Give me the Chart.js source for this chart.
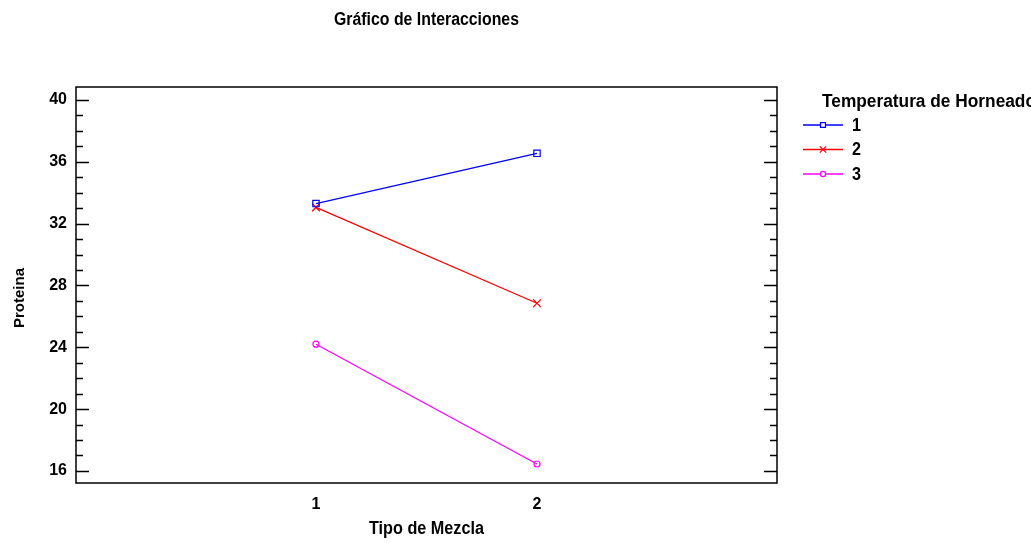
<!DOCTYPE html>
<html>
<head>
<meta charset="utf-8">
<script src="https://cdn.jsdelivr.net/npm/chart.js@4/dist/chart.umd.min.js"></script>
<style>
  html, body { margin: 0; padding: 0; background: #fff; }
  #wrap { width: 1031px; height: 543px; }
</style>
</head>
<body>
<div id="wrap"><canvas id="grafico" width="1031" height="543"></canvas></div>
<script>
// datos
const mezclas = [1, 2];
const temp1 = [33.3, 36.55];
const temp2 = [33.05, 26.85];
const temp3 = [24.2, 16.45];
const etiquetasSerie = ["1", "2", "3"];
const ticksY = [16, 20, 24, 28, 32, 36, 40];

const FONT = "'Liberation Sans', Arial, sans-serif";
const colores = ["#0000ff", "#ff0000", "#ff00ff"];
const marcas = ["rect", "crossRot", "circle"];
const radios = [4.5, 5.5, 3];
const series = [temp1, temp2, temp3];

const datasets = series.map(function (valores, i) {
  return {
    label: etiquetasSerie[i],
    data: mezclas.map(function (m, j) { return { x: m, y: valores[j] }; }),
    borderColor: colores[i],
    backgroundColor: "rgba(0,0,0,0)",
    borderWidth: 1.3,
    pointStyle: marcas[i],
    pointRadius: radios[i],
    pointBorderWidth: 1.2,
    pointBorderColor: colores[i],
    pointBackgroundColor: "rgba(0,0,0,0)",
    tension: 0,
  };
});

// texto estrecho (simula fuente narrow) con ancho objetivo
function textoEstrecho(ctx, txt, x, y, size, ancho, align) {
  ctx.save();
  ctx.font = "bold " + size + "px " + FONT;
  const w = ctx.measureText(txt).width;
  const k = ancho / w;
  ctx.translate(x, y);
  ctx.scale(k, 1);
  ctx.textAlign = align;
  ctx.textBaseline = "middle";
  ctx.fillText(txt, 0, 0);
  ctx.restore();
}

// marco, ticks interiores, titulos y leyenda
const decoracion = {
  id: "decoracion",
  afterDatasetsDraw(chart) {
    const ctx = chart.ctx;
    const a = chart.chartArea;
    const y = chart.scales.y;
    ctx.save();
    ctx.strokeStyle = "#000";
    ctx.lineWidth = 1.5;
    ctx.strokeRect(a.left, a.top, a.right - a.left, a.bottom - a.top);

    // ticks hacia adentro
    for (let v = Math.ceil(y.min); v <= Math.floor(y.max); v++) {
      const py = Math.round(y.getPixelForValue(v)) + 0.5;
      const largo = v % 4 === 0 ? 13 : 7;
      ctx.beginPath();
      ctx.moveTo(a.left, py);
      ctx.lineTo(a.left + largo, py);
      ctx.moveTo(a.right, py);
      ctx.lineTo(a.right - largo, py);
      ctx.stroke();
    }

    ctx.fillStyle = "#000";
    const cx = (a.left + a.right) / 2;
    textoEstrecho(ctx, "Gráfico de Interacciones", cx, 20, 18, 185, "center");
    textoEstrecho(ctx, "Tipo de Mezcla", cx, 529, 18, 115, "center");

    // titulo eje y
    ctx.save();
    ctx.translate(20, 298);
    ctx.rotate(-Math.PI / 2);
    ctx.font = "bold 15px " + FONT;
    ctx.textAlign = "center";
    ctx.textBaseline = "middle";
    ctx.fillText("Proteina", 0, 0);
    ctx.restore();

    // leyenda
    textoEstrecho(ctx, "Temperatura de Horneado", 822, 102, 18, 214, "left");
    etiquetasSerie.forEach(function (et, i) {
      const ly = 125 + i * 24.5;
      ctx.strokeStyle = colores[i];
      ctx.fillStyle = "#fff";
      ctx.lineWidth = 1.3;
      ctx.beginPath();
      ctx.moveTo(803, ly);
      ctx.lineTo(843, ly);
      ctx.stroke();
      ctx.lineWidth = 1.2;
      Chart.helpers.drawPoint(ctx, {
        pointStyle: marcas[i],
        radius: i === 0 ? 3.5 : (i === 1 ? 4.5 : 2.6),
        borderWidth: 1.2,
      }, 823, ly);
      ctx.fillStyle = "#000";
      textoEstrecho(ctx, et, 852, ly + 1, 18, 9, "left");
    });
    ctx.restore();
  },
};

new Chart(document.getElementById("grafico").getContext("2d"), {
  type: "line",
  data: { datasets: datasets },
  options: {
    responsive: false,
    animation: false,
    layout: { padding: { top: 87, right: 254, left: 0, bottom: 0 } },
    plugins: {
      legend: { display: false },
      title: { display: false },
      tooltip: { enabled: false },
    },
    scales: {
      x: {
        type: "linear",
        min: -0.086,
        max: 3.086,
        afterFit: function (s) { s.height = 60; },
        afterBuildTicks: function (s) {
          s.ticks = mezclas.map(function (m) { return { value: m }; });
        },
        grid: { display: false, drawTicks: false },
        border: { display: false },
        ticks: {
          padding: 12,
          color: "#000",
          font: { family: FONT, size: 16, weight: "bold" },
        },
      },
      y: {
        min: 15.22,
        max: 40.84,
        afterFit: function (s) { s.width = 76; },
        afterBuildTicks: function (s) {
          s.ticks = ticksY.map(function (v) { return { value: v }; });
        },
        grid: { display: false, drawTicks: false },
        border: { display: false },
        ticks: {
          padding: 9,
          color: "#000",
          font: { family: FONT, size: 16, weight: "bold" },
        },
      },
    },
  },
  plugins: [decoracion],
});
</script>
</body>
</html>
